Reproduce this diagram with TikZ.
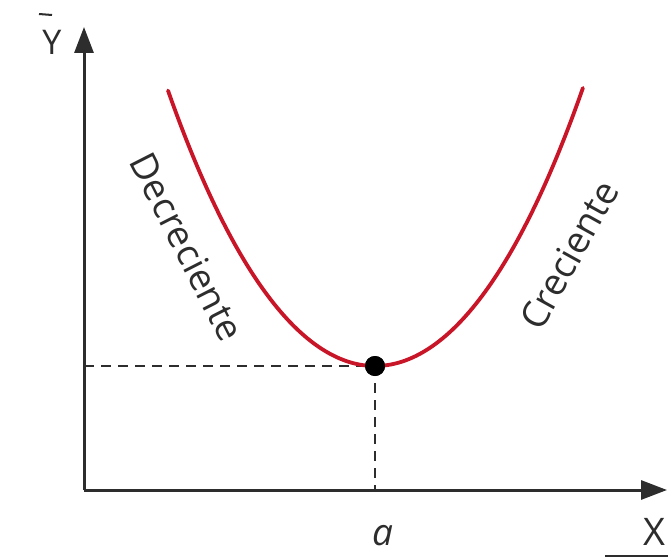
\documentclass[tikz,border=0pt]{standalone}
\usepackage{fontspec}
\setmainfont{Open Sans}
\usetikzlibrary{arrows.meta}
\definecolor{axisgray}{RGB}{45,45,45}
\definecolor{curvered}{RGB}{200,22,40}
\tikzset{
  axis/.style={draw=axisgray, line width=3pt, -{Triangle[length=26pt,width=19pt]}},
  guide/.style={draw=axisgray, line width=1.8pt, dash pattern=on 10pt off 7pt},
  lbl/.style={text=axisgray, inner sep=0pt},
  curvelbl/.style={text=axisgray, inner sep=0pt, font=\fontsize{37}{37}\selectfont}
}
\begin{document}
\begin{tikzpicture}[x=1pt,y=-1pt]
\useasboundingbox[fill=white] (0,0) rectangle (668,559);
\coordinate (O) at (84,490);
\coordinate (Ytip) at (84,27);
\coordinate (Xtip) at (667,490);
\coordinate (A) at (375,490);
\coordinate (B) at (84,366);
\node[circle, fill=black, minimum size=20pt, inner sep=0pt] (M) at (375,366) {};
% dashed guides
\draw[guide] (B) -- (M.center);
\draw[guide] (M.center) -- (A);
% axes
\draw[axis] (O) -- (Ytip);
\draw[axis] (O) -- (Xtip);
% curve
\draw[curvered, line width=3.8pt, line cap=round] plot[domain=-2.07:2.08, samples=120, smooth] ({375+100*\x},{366-60*\x*\x-1.0*\x*\x*\x*\x});
\node[circle, fill=black, minimum size=20pt, inner sep=0pt] at (M) {};
% labels
\node[lbl, font=\fontsize{34}{34}\selectfont] (Ylbl) at (52,42) {Y};
\draw[axisgray, line width=2pt] (39,14) -- (52,15);
\node[lbl, font=\fontsize{37}{37}\selectfont\itshape] (alb) at (383,536) {a};
\node[lbl, font=\fontsize{38}{38}\selectfont] (Xlbl) at (654,532) {X};
\draw[axisgray, line width=2.5pt] (605,556) -- (668,556);
\node[curvelbl, rotate=-63] (dec) at (187,247) {Decreciente};
\node[curvelbl, rotate=61] (cre) at (569,255) {Creciente};
\end{tikzpicture}
\end{document}
